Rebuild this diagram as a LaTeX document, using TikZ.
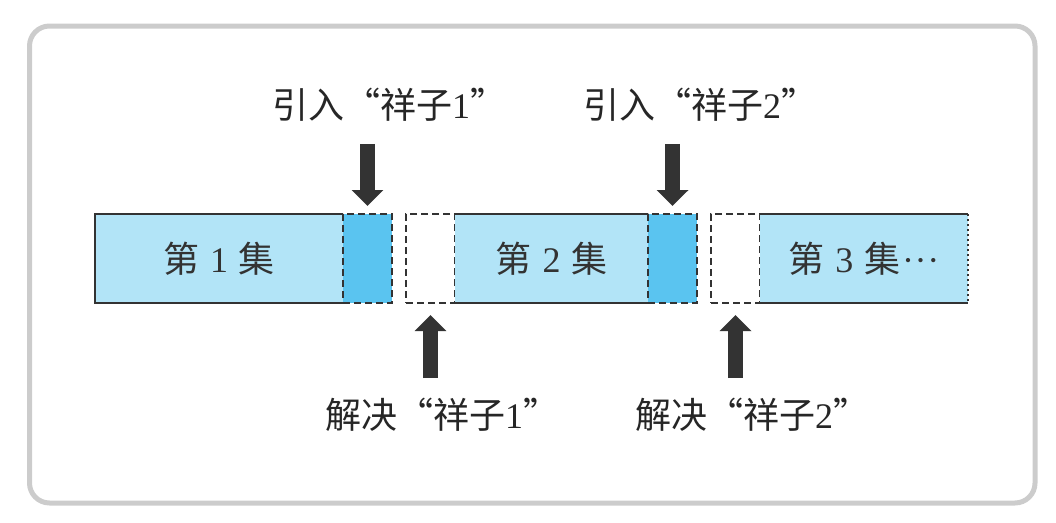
\documentclass[tikz,border=0pt]{standalone}
\usepackage{fontspec}
\setmainfont{Liberation Serif}
\newfontfamily\cjk{Noto Sans CJK SC}
\usetikzlibrary{positioning, arrows.meta}

\definecolor{epblue}{RGB}{178,228,247}
\definecolor{twistblue}{RGB}{90,196,240}
\definecolor{ink}{RGB}{51,51,51}
\definecolor{framegray}{RGB}{204,204,204}

\begin{document}
\begin{tikzpicture}[
    x=1pt, y=-1pt,
    font=\fontsize{36}{42}\selectfont,
    episode/.style={rectangle, fill=epblue, inner sep=0pt, outer sep=0pt, minimum height=89pt, text=ink},
    twist/.style={rectangle, fill=twistblue, draw=ink, line width=2.5pt, dash pattern=on 7pt off 4pt, inner sep=0pt, outer sep=0pt, minimum width=49pt, minimum height=89pt},
    fixbox/.style={twist, fill=white},
    edge/.style={draw=ink, line width=2.5pt},
    lbl/.style={inner sep=0pt, text=black!85},
    blockarrow/.style={line width=15pt, draw=ink, -{Triangle[width=31pt, length=16pt]}}
]
\useasboundingbox (0,0) rectangle (1056,522);

% Frame
\draw[draw=framegray, line width=5pt, rounded corners=20pt] (29.5,26) rectangle (1035,503);

% Episodes
\node[episode, minimum width=248pt, anchor=west] (ep1) at (95,258.5) {{\cjk 第}\hspace{0.3em}1\hspace{0.3em}{\cjk 集}};
\node[twist, right=0pt of ep1] (twist1) {};
\node[fixbox, right=14pt of twist1] (fix1) {};
\node[episode, minimum width=193pt, right=0pt of fix1] (ep2) {{\cjk 第}\hspace{0.3em}2\hspace{0.3em}{\cjk 集}};
\node[twist, right=0pt of ep2] (twist2) {};
\node[fixbox, right=14pt of twist2] (fix2) {};
\node[episode, minimum width=208pt, right=0pt of fix2] (ep3) {{\cjk 第}\hspace{0.3em}3\hspace{0.3em}{\cjk 集}\hspace{0.05em}·\hspace{0.02em}·\hspace{0.02em}·};

% Episode outlines
\draw[edge] (ep1.north east) -- (ep1.north west) -- (ep1.south west) -- (ep1.south east);
\draw[edge] (ep2.north west) -- (ep2.north east);
\draw[edge] (ep2.south west) -- (ep2.south east);
\draw[edge] (ep3.north west) -- (ep3.north east);
\draw[edge] (ep3.south west) -- (ep3.south east);
\draw[edge, line width=2pt, dash pattern=on 2pt off 3pt] (ep3.north east) -- (ep3.south east);

% Labels
\node[lbl] (intro1) at (389,105) {{\cjk 引入“祥子}1{\cjk ”}};
\node[lbl] (intro2) at (700,105) {{\cjk 引入“祥子}2{\cjk ”}};
\node[lbl] (solve1) at (442,415) {{\cjk 解决“祥子}1{\cjk ”}};
\node[lbl] (solve2) at (752,415) {{\cjk 解决“祥子}2{\cjk ”}};

% Arrows
\draw[blockarrow, shorten <=22pt, shorten >=8pt] (twist1.north |- intro1.south) -- (twist1.north);
\draw[blockarrow, shorten <=22pt, shorten >=8pt] (twist2.north |- intro2.south) -- (twist2.north);
\draw[blockarrow, shorten <=20pt, shorten >=12pt] (fix1.south |- solve1.north) -- (fix1.south);
\draw[blockarrow, shorten <=20pt, shorten >=12pt] (fix2.south |- solve2.north) -- (fix2.south);

\end{tikzpicture}
\end{document}
